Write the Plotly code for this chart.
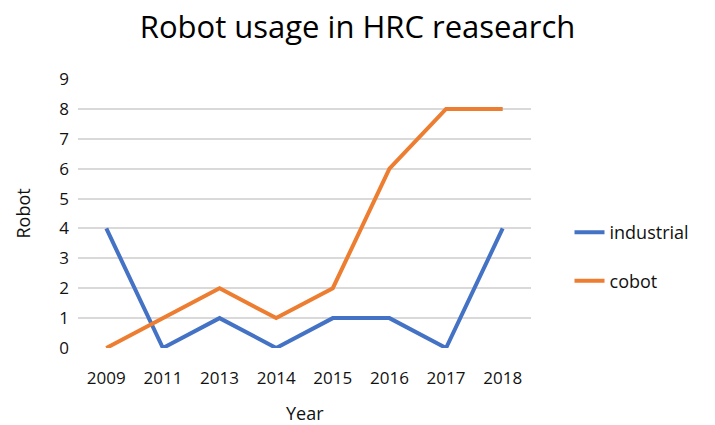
import plotly.graph_objects as go

years = ["2009", "2011", "2013", "2014", "2015", "2016", "2017", "2018"]
industrial = [4, 0, 1, 0, 1, 1, 0, 4]
cobot = [0, 1, 2, 1, 2, 6, 8, 8]

font_family = "Open Sans, Liberation Sans, sans-serif"

fig = go.Figure()
fig.add_trace(go.Scatter(x=years, y=industrial, mode="lines", name="industrial",
                         line=dict(color="#4472C4", width=4), cliponaxis=False,
                         legendgroup="a"))
fig.add_trace(go.Scatter(x=years, y=cobot, mode="lines", name="cobot",
                         line=dict(color="#ED7D31", width=4), cliponaxis=False,
                         legendgroup="b"))

fig.update_layout(
    width=715, height=425,
    margin=dict(l=78, r=184, t=79, b=77),
    paper_bgcolor="white", plot_bgcolor="white",
    font=dict(family=font_family, size=17, color="#111111"),
    title=dict(text="Robot usage in HRC reasearch", x=0.5, xanchor="center",
               y=0.935, yanchor="middle", font=dict(size=31, color="#000000")),
    xaxis=dict(type="category", range=[-0.5, 7.5], showgrid=False,
               showline=False, zeroline=False, ticks="", ticklabelstandoff=18,
               tickfont=dict(size=17), automargin=False),
    yaxis=dict(range=[0, 9], dtick=1, showgrid=True, gridcolor="#d9d9d9",
               gridwidth=1.5, zeroline=False, showline=False, ticks="",
               ticklabelstandoff=8, tickfont=dict(size=17), automargin=False),
    legend=dict(x=1.085, xanchor="left", y=0.34, yanchor="middle",
                traceorder="grouped", tracegroupgap=22,
                font=dict(size=18), bgcolor="rgba(0,0,0,0)"),
    showlegend=True,
    annotations=[
        dict(text="Year", xref="paper", yref="paper", x=0.5, y=-0.2416,
             xanchor="center", yanchor="middle", showarrow=False,
             font=dict(size=18)),
        dict(text="Robot", xref="paper", yref="paper", x=-0.1236, y=0.5,
             xanchor="center", yanchor="middle", showarrow=False, textangle=-90,
             font=dict(size=18)),
    ],
)

fig.write_html("out.html")
